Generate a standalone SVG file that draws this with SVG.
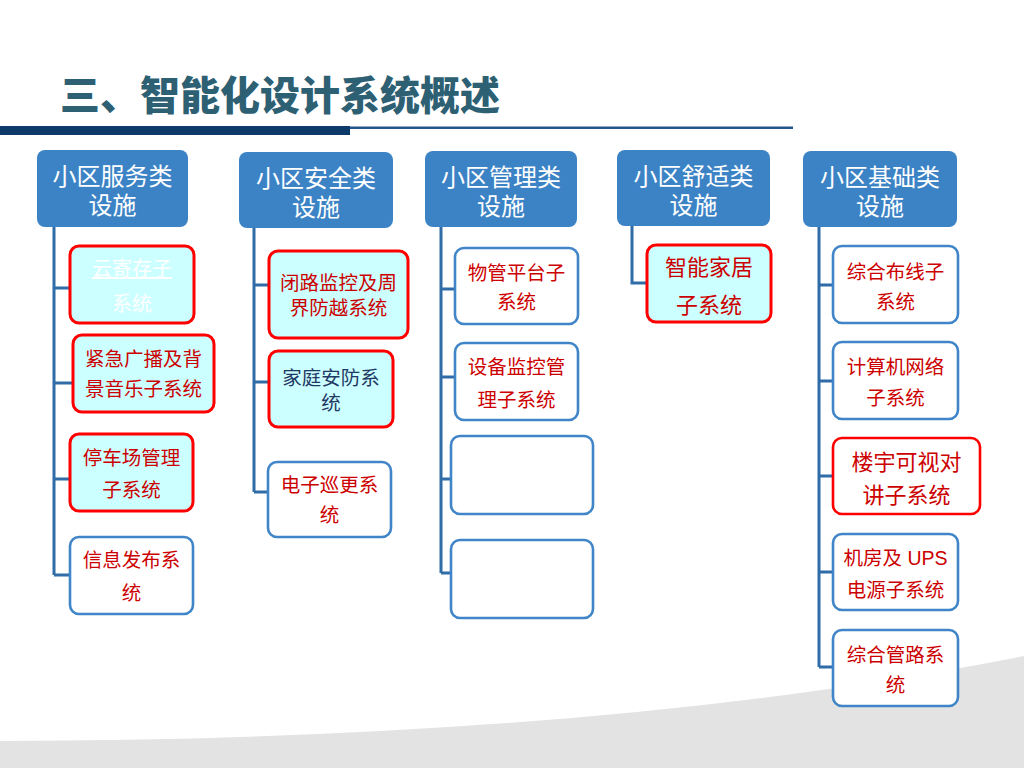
<svg xmlns="http://www.w3.org/2000/svg" width="1024" height="768" viewBox="0 0 1024 768">
<style>
text{font-family:"Liberation Sans","Noto Sans CJK SC",sans-serif;text-anchor:middle}
.hdr rect{fill:#3c83c6;}
.hdr text{fill:#ffffff;font-size:24px}
.rb{fill:#ccffff;stroke:#ff0000;stroke-width:3}
.bb{fill:#ffffff;stroke:#3f85c8;stroke-width:2.6}
.rt{fill:#cc0000;font-size:19.5px}
.nt{fill:#1f3864;font-size:19.5px}
.wt{fill:#ffffff;font-size:20px}
.conn path{fill:none;stroke:#2f6ca8;stroke-width:3}
</style>
<rect x="0" y="0" width="1024" height="768" fill="#ffffff"/>
<path d="M0,741 Q600,740 1024,656 L1024,768 L0,768 Z" fill="#e3e3e3"/>
<text x="280" y="110" style="font-size:40px;font-weight:900;fill:#2e6074">三、智能化设计系统概述</text>
<rect x="0" y="126" width="350" height="9" fill="#0e3a6a"/>
<rect x="350" y="126.5" width="443" height="2.5" fill="#23568a"/>

<g class="conn">
<path d="M54,227 V575 M54,288 H70 M54,383 H73 M54,479 H70 M54,575 H70"/>
<path d="M254,228 V492 M254,285 H269 M254,382 H269 M254,492 H268"/>
<path d="M441,227 V573 M441,289 H455 M441,377 H455 M441,479 H451 M441,573 H451"/>
<path d="M632,226 V283 H647"/>
<path d="M819,227 V667 M819,285 H833 M819,381 H833 M819,476 H833 M819,572 H833 M819,667 H833"/>
</g>

<g id="h1" class="hdr"><rect x="37" y="150" width="151" height="77" rx="8"/><text x="112.5" y="185">小区服务类<tspan x="112.5" dy="29">设施</tspan></text></g>
<g id="h2" class="hdr"><rect x="239" y="152" width="154" height="76" rx="8"/><text x="316" y="187">小区安全类<tspan x="316" dy="29">设施</tspan></text></g>
<g id="h3" class="hdr"><rect x="425" y="151" width="152" height="76" rx="8"/><text x="501" y="186">小区管理类<tspan x="501" dy="29">设施</tspan></text></g>
<g id="h4" class="hdr"><rect x="617" y="150" width="153" height="76" rx="8"/><text x="693.5" y="185">小区舒适类<tspan x="693.5" dy="29">设施</tspan></text></g>
<g id="h5" class="hdr"><rect x="803" y="151" width="154" height="76" rx="8"/><text x="880" y="186">小区基础类<tspan x="880" dy="29">设施</tspan></text></g>

<g id="n1"><rect class="rb" x="70" y="246" width="124" height="77" rx="9"/><text class="wt" x="132" y="276"><tspan text-decoration="underline">云寄存子</tspan><tspan x="132" dy="35">系统</tspan></text></g>
<g id="n2"><rect class="rb" x="73" y="335" width="141" height="77" rx="9"/><text class="rt" x="143.5" y="366">紧急广播及背<tspan x="143.5" dy="30">景音乐子系统</tspan></text></g>
<g id="n3"><rect class="rb" x="70" y="434" width="123" height="77" rx="9"/><text class="rt" x="131.5" y="465">停车场管理<tspan x="131.5" dy="32">子系统</tspan></text></g>
<g id="n4"><rect class="bb" x="70" y="537" width="123" height="77" rx="9"/><text class="rt" x="131.5" y="567">信息发布系<tspan x="131.5" dy="33">统</tspan></text></g>

<g id="n5"><rect class="rb" x="269" y="251" width="139" height="87" rx="9"/><text class="rt" x="338.5" y="290">闭路监控及周<tspan x="338.5" dy="25">界防越系统</tspan></text></g>
<g id="n6"><rect class="rb" x="269" y="351" width="124" height="76" rx="9"/><text class="nt" x="331" y="385">家庭安防系<tspan x="331" dy="25">统</tspan></text></g>
<g id="n7"><rect class="bb" x="268" y="462" width="123" height="75" rx="9"/><text class="rt" x="329.5" y="492">电子巡更系<tspan x="329.5" dy="30">统</tspan></text></g>

<g id="n8"><rect class="bb" x="455" y="248" width="123" height="76" rx="9"/><text class="rt" x="516.5" y="280">物管平台子<tspan x="516.5" dy="29">系统</tspan></text></g>
<g id="n9"><rect class="bb" x="455" y="343" width="123" height="77" rx="9"/><text class="rt" x="516.5" y="374">设备监控管<tspan x="516.5" dy="33">理子系统</tspan></text></g>
<g id="n10"><rect class="bb" x="451" y="436" width="142" height="78" rx="9"/></g>
<g id="n11"><rect class="bb" x="451" y="540" width="142" height="78" rx="9"/></g>

<g id="n12"><rect class="rb" x="647" y="245" width="124" height="77" rx="9"/><text class="rt" x="709" y="275" style="font-size:22px">智能家居<tspan x="709" dy="38">子系统</tspan></text></g>

<g id="n13"><rect class="bb" x="833" y="246" width="125" height="77" rx="9"/><text class="rt" x="895.5" y="279">综合布线子<tspan x="895.5" dy="30">系统</tspan></text></g>
<g id="n14"><rect class="bb" x="833" y="342" width="125" height="77" rx="9"/><text class="rt" x="895.5" y="374">计算机网络<tspan x="895.5" dy="31">子系统</tspan></text></g>
<g id="n15"><rect class="bb" x="833" y="438" width="147" height="76" rx="9" style="stroke:#ff0000"/><text class="rt" x="906.5" y="470" style="font-size:22px">楼宇可视对<tspan x="906.5" dy="33">讲子系统</tspan></text></g>
<g id="n16"><rect class="bb" x="833" y="534" width="125" height="76" rx="9"/><text class="rt" x="895.5" y="565">机房及 UPS<tspan x="895.5" dy="32">电源子系统</tspan></text></g>
<g id="n17"><rect class="bb" x="833" y="630" width="125" height="76" rx="9"/><text class="rt" x="895.5" y="662">综合管路系<tspan x="895.5" dy="30">统</tspan></text></g>
</svg>
